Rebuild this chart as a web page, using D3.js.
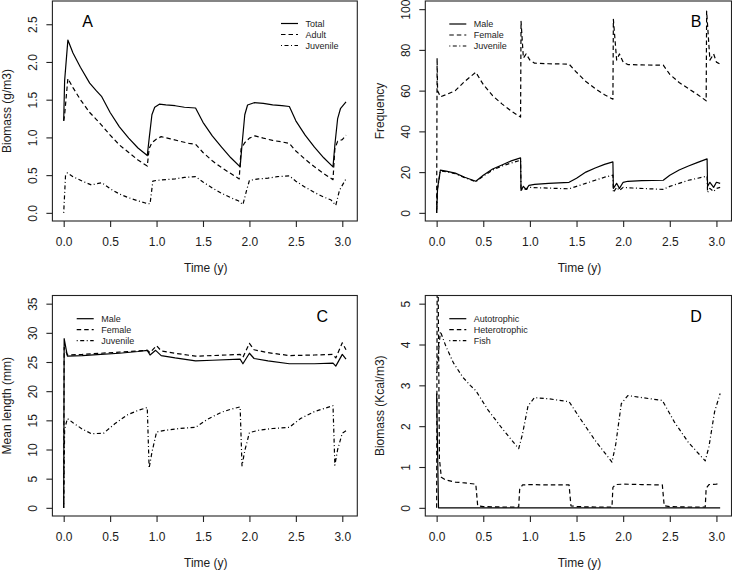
<!DOCTYPE html>
<html><head><meta charset="utf-8">
<script src="https://cdn.jsdelivr.net/npm/d3@7"></script>
<style>
html,body{margin:0;padding:0;background:#fff;}
svg{display:block;font-family:"Liberation Sans",Arial,sans-serif;}
</style></head>
<body><svg id="c" width="732" height="571"></svg>
<script>
// ---------- Data ----------
const xTicks = [0, 0.5, 1, 1.5, 2, 2.5, 3];
const xTickLabels = ["0.0","0.5","1.0","1.5","2.0","2.5","3.0"];

// Panel A: Biomass (g/m3)
const tA_total = [0,0.01,0.045,0.1,0.18,0.28,0.35,0.41,0.5,0.6,0.7,0.8,0.9,0.92,0.95,0.98,1.03,1.1,1.2,1.3,1.42,1.5,1.6,1.7,1.8,1.9,1.92,1.95,1.98,2.05,2.15,2.25,2.35,2.43,2.5,2.6,2.7,2.8,2.9,2.92,2.95,2.98,3.04];
const A_total  = [1.22,1.75,2.29,2.12,1.93,1.72,1.62,1.54,1.33,1.14,0.99,0.86,0.76,0.98,1.3,1.4,1.44,1.43,1.42,1.4,1.39,1.2,1.02,0.87,0.73,0.61,0.9,1.3,1.43,1.46,1.45,1.43,1.42,1.41,1.22,1.03,0.87,0.73,0.61,0.9,1.25,1.38,1.47];
const tA_adult = [0,0.01,0.045,0.1,0.18,0.28,0.35,0.41,0.5,0.6,0.7,0.8,0.9,0.92,0.95,1.0,1.05,1.15,1.25,1.35,1.42,1.5,1.6,1.7,1.8,1.89,1.91,1.95,2.0,2.06,2.15,2.25,2.35,2.43,2.5,2.6,2.7,2.8,2.9,2.92,2.95,3.0,3.04];
const A_adult  = [1.22,1.3,1.78,1.66,1.5,1.33,1.24,1.16,1.03,0.9,0.8,0.7,0.62,0.85,0.93,0.98,1.01,0.98,0.95,0.92,0.91,0.8,0.69,0.6,0.52,0.45,0.85,0.93,0.99,1.02,0.99,0.96,0.94,0.92,0.82,0.71,0.61,0.52,0.44,0.85,0.95,0.97,1.03];
const tA_juv = [0,0.02,0.04,0.1,0.2,0.3,0.41,0.5,0.6,0.7,0.8,0.88,0.93,0.96,1.0,1.1,1.2,1.3,1.42,1.5,1.6,1.7,1.8,1.88,1.93,1.97,2.0,2.1,2.2,2.3,2.43,2.5,2.6,2.7,2.8,2.88,2.93,2.97,3.04];
const A_juv  = [0,0.5,0.53,0.48,0.42,0.37,0.4,0.32,0.25,0.2,0.16,0.13,0.12,0.42,0.43,0.44,0.45,0.47,0.48,0.41,0.33,0.26,0.2,0.16,0.11,0.3,0.43,0.45,0.46,0.48,0.49,0.42,0.34,0.27,0.21,0.17,0.1,0.3,0.45];

// Panel B: Frequency
const tB_male = [0,0.01,0.04,0.1,0.2,0.3,0.42,0.5,0.6,0.7,0.8,0.9,0.905,0.93,0.96,0.99,1.05,1.2,1.42,1.5,1.6,1.7,1.8,1.89,1.895,1.93,1.96,2.0,2.05,2.2,2.43,2.5,2.6,2.7,2.8,2.9,2.905,2.93,2.97,3.0,3.04];
const B_male  = [0,12,21,20.5,19.5,17.5,15.5,18.5,21.5,23.5,25.5,27,11,13,11.5,13.5,14,14.5,15,17,20,22,23.8,25,12,14.5,12,15,15.5,15.8,16,18.5,21,23,24.8,26.5,13,15,12.5,15,14.5];
const tB_female = [0,0.005,0.01,0.04,0.1,0.2,0.3,0.42,0.5,0.6,0.7,0.8,0.9,0.905,0.93,0.96,1.0,1.05,1.2,1.42,1.5,1.6,1.7,1.8,1.89,1.895,1.93,1.96,2.0,2.05,2.2,2.43,2.5,2.6,2.7,2.8,2.89,2.895,2.93,2.97,3.0,3.04];
const B_female  = [0,76,60,57,58,60,64.5,69,63,57.5,53.5,50,47,94,76,78,75,73.5,73.2,73,69,64.5,61,58,55.8,95,75,78,74,72.8,72.6,72.5,68,64,61,58,55,99,75,78,74,73];
const tB_juv = [0,0.01,0.04,0.1,0.2,0.3,0.42,0.5,0.6,0.7,0.8,0.9,0.905,0.93,0.96,1.0,1.1,1.42,1.5,1.6,1.7,1.8,1.89,1.895,1.93,1.96,2.0,2.1,2.43,2.5,2.6,2.7,2.8,2.9,2.905,2.93,2.97,3.0,3.04];
const B_juv  = [0,12,20.5,20.2,19.2,17.3,15.3,18,21,23,24.5,25.8,11,12,11.5,12.5,12.3,11.8,13,14.5,16,17.5,18.5,10,12.5,11,12.5,12.2,11.5,13,14.5,16,17,18,10,12,10.5,12,12.5];

// Panel C: Mean length (mm)
const tC_male = [0,0.005,0.04,0.2,0.4,0.6,0.8,0.9,0.93,0.99,1.05,1.2,1.42,1.6,1.9,1.93,2.0,2.05,2.2,2.43,2.7,2.9,2.93,3.0,3.04];
const C_male  = [0,29,26,26.1,26.3,26.5,26.8,27,26.2,27,26.1,25.7,25.2,25.3,25.5,24.7,26.5,25.6,25.2,24.7,24.7,24.8,24.3,26.3,25.5];
const tC_female = [0,0.005,0.04,0.2,0.4,0.6,0.8,0.9,0.93,1.0,1.05,1.2,1.42,1.6,1.9,1.93,2.0,2.05,2.2,2.43,2.7,2.9,2.93,3.0,3.04];
const C_female  = [0,27.5,26.2,26.3,26.5,26.7,26.9,27,26.6,27.8,26.9,26.5,26,26.1,26.3,25.8,28.2,27.1,26.6,26.1,26.2,26.3,25.7,28.3,27.1];
const tC_juv = [0,0.01,0.04,0.1,0.2,0.3,0.43,0.55,0.68,0.8,0.9,0.92,0.95,1.0,1.1,1.25,1.42,1.55,1.7,1.8,1.9,1.92,1.95,2.0,2.1,2.25,2.43,2.55,2.7,2.8,2.9,2.92,2.95,3.0,3.04];
const C_juv  = [0,13.5,15.3,14.6,13.5,12.7,12.8,14.4,15.9,16.7,17.2,6.8,9.5,13,13.3,13.6,13.8,15.2,16.4,16.9,17.3,7.2,9.8,12.9,13.3,13.6,13.8,15.3,16.5,17,17.5,7.3,10,12.8,13.2];

// Panel D: Biomass (Kcal/m3)
const tD_auto = [0,0.02,3.04];
const D_auto  = [2.8,0,0];
const tD_het = [0,0.008,0.03,0.05,0.1,0.2,0.3,0.42,0.44,0.5,0.7,0.88,0.89,0.92,1.0,1.2,1.42,1.44,1.5,1.7,1.88,1.89,1.92,2.0,2.2,2.42,2.44,2.5,2.7,2.88,2.89,2.92,3.0,3.04];
const D_het  = [0,8,1.2,0.75,0.68,0.63,0.61,0.58,0.05,0.03,0.02,0.02,0.45,0.56,0.57,0.56,0.56,0.05,0.03,0.02,0.02,0.5,0.57,0.58,0.57,0.56,0.05,0.03,0.02,0.02,0.48,0.57,0.58,0.6];
const tD_fish = [0,0.04,0.1,0.18,0.28,0.36,0.42,0.55,0.7,0.88,0.92,0.98,1.05,1.2,1.42,1.55,1.7,1.88,1.92,1.98,2.05,2.2,2.42,2.55,2.7,2.88,2.92,2.98,3.04];
const D_fish  = [3.3,4.32,3.95,3.55,3.2,3.0,2.87,2.4,1.95,1.45,1.8,2.5,2.7,2.67,2.6,2.15,1.65,1.12,1.55,2.55,2.75,2.7,2.63,2.1,1.6,1.15,1.5,2.35,2.8];

const yTicksA = [0,0.5,1,1.5,2,2.5], yTickLabA = ["0.0","0.5","1.0","1.5","2.0","2.5"];
const yTicksB = [0,20,40,60,80,100];
const yTicksC = [0,5,10,15,20,25,30,35];
const yTicksD = [0,1,2,3,4,5];

// ---------- Styles ----------
const DASH = {solid:null, dashed:"4.5,3", dotdash:"1,2.5,4,2.5"};
const FONT = "Liberation Sans, Arial, sans-serif";
const INK = "#1c1c1c";

const svg = d3.select("#c");
const XLIM = [-0.1216, 3.1616];

const panels = [
  {id:"A", box:{l:52.4,r:357.3,t:1,b:221}, ylim:[-0.108,2.808], yt:yTicksA, ytl:yTickLabA, ylab:"Biomass (g/m3)",
   letter:{dx:35.5,dy:20.5,fromRight:false},
   legend:{x:281,y:23.5,fromRight:false},
   series:[{n:"Total",t:tA_total,v:A_total,s:"solid"},{n:"Adult",t:tA_adult,v:A_adult,s:"dashed"},{n:"Juvenile",t:tA_juv,v:A_juv,s:"dotdash"}]},
  {id:"B", box:{l:425.3,r:731.5,t:1,b:221}, ylim:[-4,104], yt:yTicksB, ytl:null, ylab:"Frequency",
   letter:{x:696,y:21},
   legend:{x:449.3,y:24},
   series:[{n:"Male",t:tB_male,v:B_male,s:"solid"},{n:"Female",t:tB_female,v:B_female,s:"dashed"},{n:"Juvenile",t:tB_juv,v:B_juv,s:"dotdash"}]},
  {id:"C", box:{l:52.4,r:357.3,t:295.5,b:516}, ylim:[-1.4,36.4], yt:yTicksC, ytl:null, ylab:"Mean length (mm)",
   letter:{x:322.3,y:316.5},
   legend:{x:76.7,y:318.7},
   series:[{n:"Male",t:tC_male,v:C_male,s:"solid"},{n:"Female",t:tC_female,v:C_female,s:"dashed"},{n:"Juvenile",t:tC_juv,v:C_juv,s:"dotdash"}]},
  {id:"D", box:{l:425.3,r:731.5,t:295.5,b:516}, ylim:[-0.2,5.2], yt:yTicksD, ytl:null, ylab:"Biomass (Kcal/m3)",
   letter:{x:696,y:316.5},
   legend:{x:449.3,y:318.7},
   series:[{n:"Autotrophic",t:tD_auto,v:D_auto,s:"solid"},{n:"Heterotrophic",t:tD_het,v:D_het,s:"dashed"},{n:"Fish",t:tD_fish,v:D_fish,s:"dotdash"}]}
];
panels[0].letter = {x:87.7,y:21};

panels.forEach(p => {
  const b = p.box;
  const x = d3.scaleLinear().domain(XLIM).range([b.l, b.r]);
  const y = d3.scaleLinear().domain(p.ylim).range([b.b, b.t]);
  const g = svg.append("g");

  // clip
  const cid = "clip" + p.id;
  svg.append("clipPath").attr("id", cid).append("rect")
    .attr("x", b.l).attr("y", b.t).attr("width", b.r - b.l).attr("height", b.b - b.t);

  // series
  const line = d3.line().x(d => x(d[0])).y(d => y(d[1]));
  const lg = g.append("g").attr("clip-path", `url(#${cid})`);
  p.series.forEach(s => {
    const pts = s.t.map((t, i) => [t, s.v[i]]);
    lg.append("path").datum(pts).attr("d", line)
      .attr("fill", "none").attr("stroke", "#000").attr("stroke-width", 1.2)
      .attr("stroke-linejoin", "round")
      .attr("stroke-dasharray", DASH[s.s]);
  });

  // box
  g.append("rect").attr("x", b.l).attr("y", b.t).attr("width", b.r - b.l).attr("height", b.b - b.t)
    .attr("fill", "none").attr("stroke", "#222").attr("stroke-width", 1.1);

  // x axis
  const xa = d3.axisBottom(x).tickValues(xTicks).tickSize(6).tickPadding(4)
    .tickFormat((d, i) => xTickLabels[i]);
  const xg = g.append("g").attr("transform", `translate(0,${b.b})`).call(xa);
  xg.select(".domain").remove();
  xg.selectAll("line").attr("stroke", "#222").attr("stroke-width", 1.1);
  xg.selectAll("text").attr("font-size", 12).attr("font-family", FONT).attr("fill", INK)
    .attr("y", null).attr("dy", null).attr("dominant-baseline", "central")
    .attr("transform", "translate(0,20.5)");

  // y axis
  const ya = d3.axisLeft(y).tickValues(p.yt).tickSize(6)
    .tickFormat((d, i) => p.ytl ? p.ytl[i] : String(d));
  const yg = g.append("g").attr("transform", `translate(${b.l},0)`).call(ya);
  yg.select(".domain").remove();
  yg.selectAll("line").attr("stroke", "#222").attr("stroke-width", 1.1);
  yg.selectAll("text").attr("font-size", 12).attr("font-family", FONT).attr("fill", INK)
    .attr("x", null).attr("dy", null).attr("text-anchor", "middle").attr("dominant-baseline", "central")
    .attr("transform", "translate(-19.5,0) rotate(-90)");

  // axis titles
  g.append("text").attr("x", (b.l + b.r) / 2 + 1).attr("y", b.b + 47)
    .attr("text-anchor", "middle").attr("dominant-baseline", "central")
    .attr("font-size", 12).attr("font-family", FONT).attr("fill", INK).text("Time (y)");
  g.append("text").attr("transform", `translate(${b.l - 45},${(b.t + b.b) / 2}) rotate(-90)`)
    .attr("text-anchor", "middle").attr("dominant-baseline", "central")
    .attr("font-size", 12).attr("font-family", FONT).attr("fill", INK).text(p.ylab);

  // panel letter
  g.append("text").attr("x", p.letter.x).attr("y", p.letter.y)
    .attr("text-anchor", "middle").attr("dominant-baseline", "central")
    .attr("font-size", 16).attr("font-family", FONT).attr("fill", "#000").text(p.id);

  // legend
  const L = g.append("g");
  p.series.forEach((s, i) => {
    const yy = p.legend.y + i * 11;
    L.append("line").attr("x1", p.legend.x).attr("x2", p.legend.x + 17).attr("y1", yy).attr("y2", yy)
      .attr("stroke", "#000").attr("stroke-width", 1.2).attr("stroke-dasharray", DASH[s.s]);
    L.append("text").attr("x", p.legend.x + 24.5).attr("y", yy).attr("dominant-baseline", "central")
      .attr("font-size", 9).attr("font-family", FONT).attr("fill", INK).text(s.n);
  });
});
</script>
</body></html>
